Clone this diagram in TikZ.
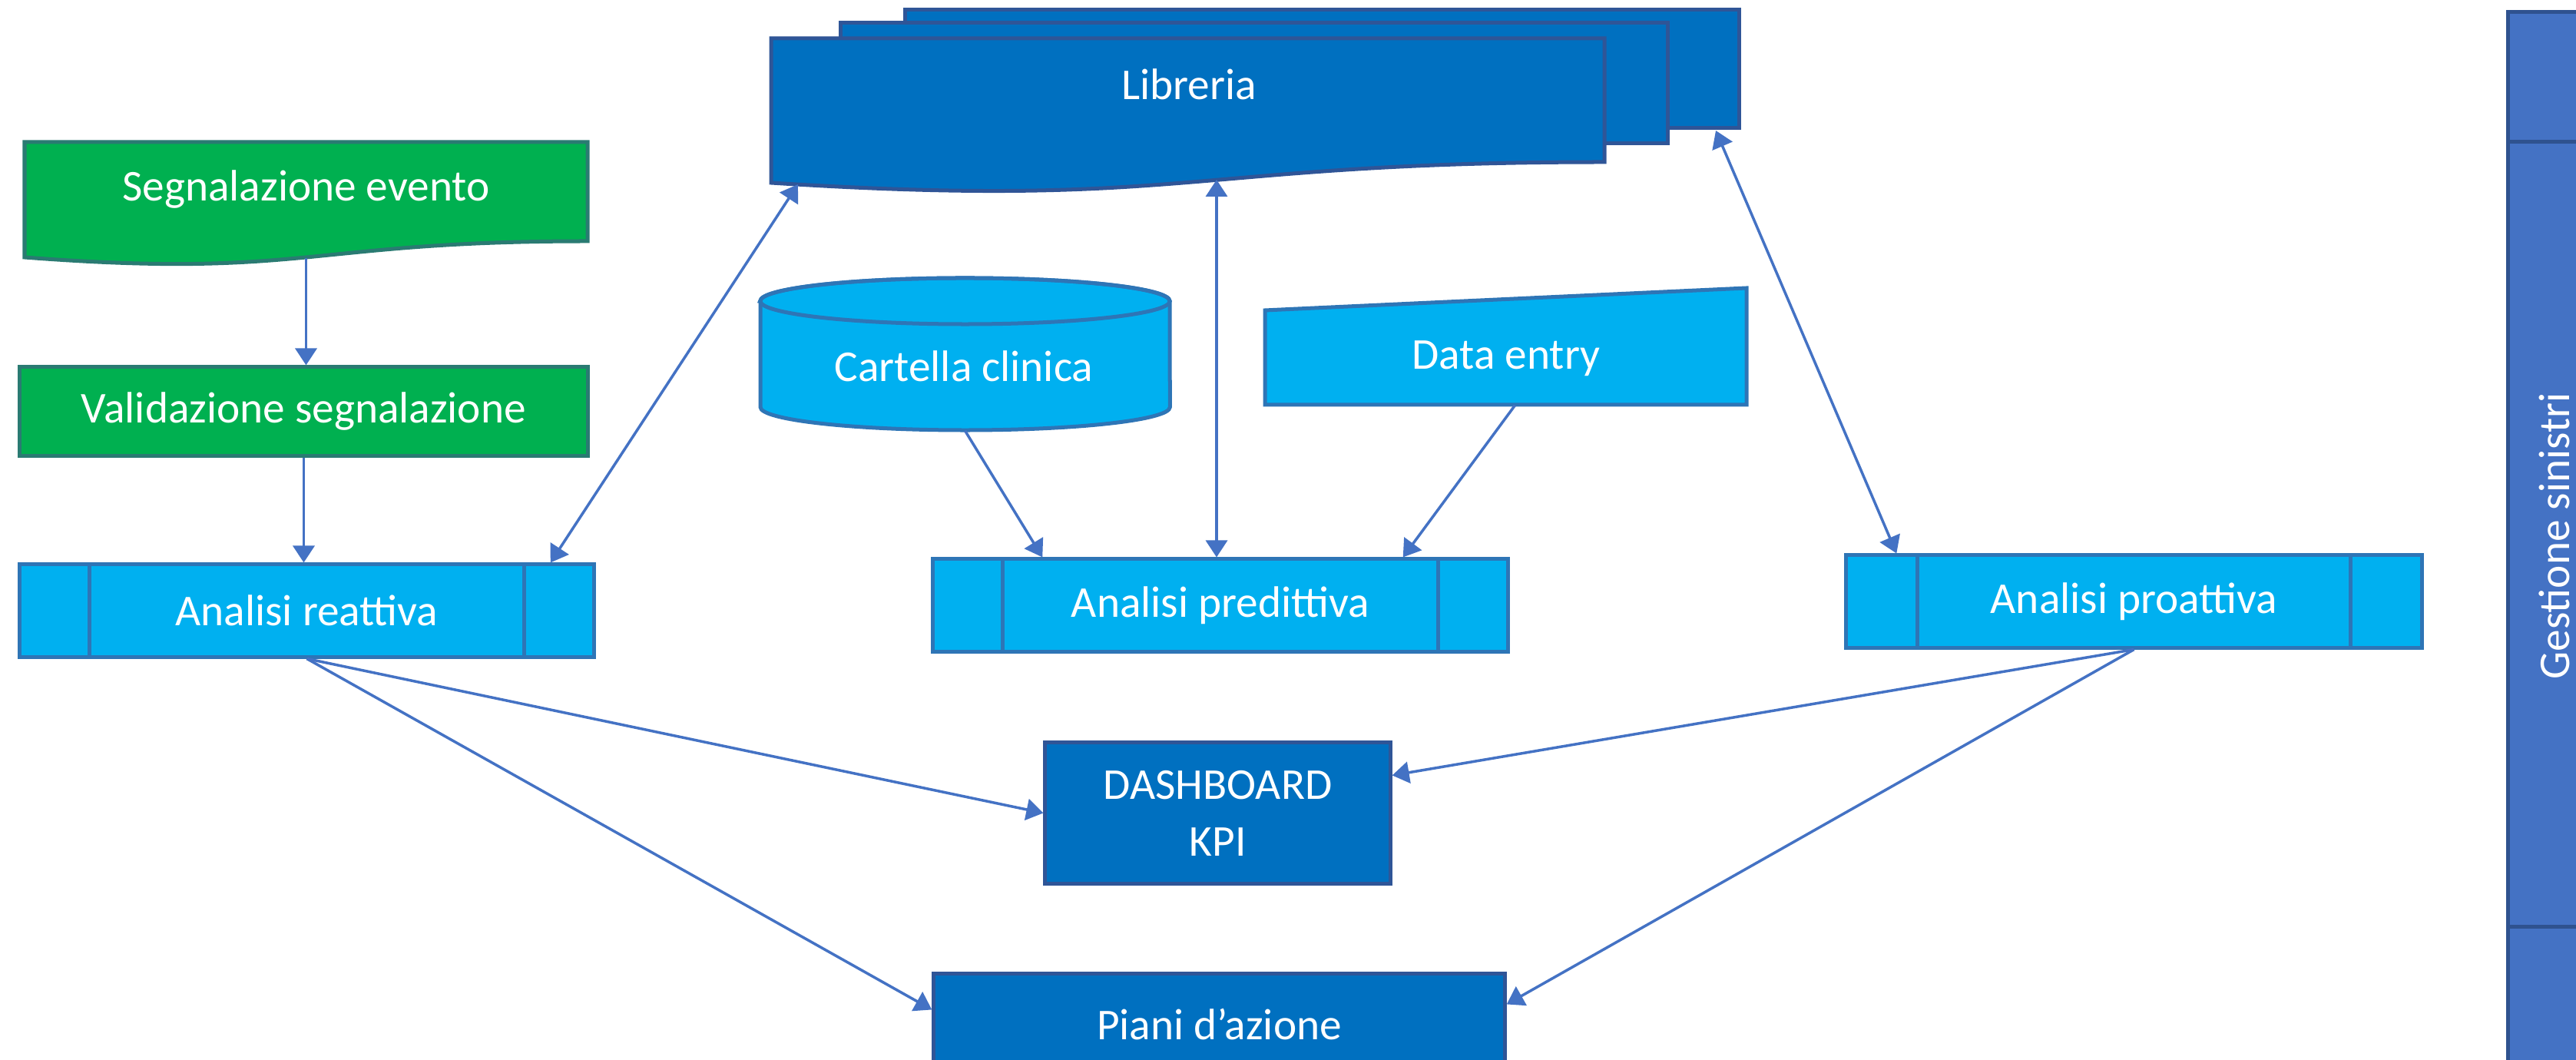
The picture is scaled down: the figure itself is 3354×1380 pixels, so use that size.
\documentclass[tikz,border=0pt]{standalone}
\usepackage{fontspec}
\setmainfont{Carlito}
\usetikzlibrary{calc,arrows.meta}
\definecolor{greenF}{HTML}{00B050}
\definecolor{greenB}{HTML}{2A7B72}
\definecolor{ltF}{HTML}{00B0F0}
\definecolor{ltB}{HTML}{2E75B6}
\definecolor{dkF}{HTML}{0070C0}
\definecolor{dkB}{HTML}{2F5597}
\definecolor{barF}{HTML}{4472C4}
\definecolor{barB}{HTML}{2F528F}
\definecolor{arrC}{HTML}{4472C4}
\newcommand\myfs{\fontsize{16.3}{21}\selectfont}
\begin{document}
\begin{tikzpicture}[x=0.01cm,y=-0.01cm,
  bw/.style={line width=0.05cm},
  greenshape/.style={bw, draw=greenB, fill=greenF},
  ltshape/.style={bw, draw=ltB, fill=ltF},
  dkshape/.style={bw, draw=dkB, fill=dkF},
  txt/.style={text=white, font=\myfs, align=center, inner sep=0pt},
  frame/.style={inner sep=0pt, draw=none, fill=none},
  greenbox/.style={greenshape, txt, rectangle},
  ltbox/.style={ltshape, txt, rectangle},
  dkbox/.style={dkshape, txt, rectangle},
  ltline/.style={bw, draw=ltB},
  tip/.tip={Triangle[length=0.22cm,width=0.28cm]},
  arr/.style={draw=arrC, line width=0.035cm, -tip},
  dbl/.style={draw=arrC, line width=0.035cm, tip-tip}]
\clip (0,0) rectangle (3354,1380);
\fill[white] (0,0) rectangle (3354,1380);

% Gestione sinistri bar
\node[frame, fill=barF, draw=barB, bw, minimum width=1.6cm, minimum height=14cm, anchor=north west] (gest) at (3263,13) {};
\draw[barB, bw] ($(gest.north west)+(0,172)$) -- ($(gest.north east)+(0,172)$);
\draw[barB, bw] ($(gest.north west)+(0,1194)$) -- ($(gest.north east)+(0,1194)$);
\node[txt, rotate=90] (gestT) at (3326,698) {Gestione sinistri};

% Libreria (multidocument)
\draw[dkshape] (1178,13) rectangle (2264,167);
\draw[dkshape] (1094,30) rectangle (2171,187);
\draw[dkshape] (1004,50) -- (2089,50) -- (2089,211) .. controls (1546.5,211) and (1546.5,272.6) .. (1004,238) -- cycle;
\node[frame, minimum width=10.85cm, minimum height=1.88cm] (lib) at (1546.5,144) {};
\node[txt] (libT) at (1548,110) {Libreria};
\coordinate (libA) at (1039,240);
\coordinate (libB) at (1584,234);
\coordinate (libC) at (2234,170);

% Segnalazione evento (document)
\draw[greenshape] (32,185) -- (765,185) -- (765,314) .. controls (398.5,314) and (398.5,363) .. (32,335) -- cycle;
\node[frame, minimum width=7.33cm, minimum height=1.5cm] (segn) at (398.5,260) {};
\node[txt] (segnT) at (398.5,247) {Segnalazione evento};

% Validazione segnalazione
\node[greenbox, minimum width=7.39cm, minimum height=1.15cm] (valid) at (395.5,535.5) {Validazione segnalazione};

% Analisi reattiva
\node[ltbox, minimum width=7.47cm, minimum height=1.2cm] (react) at (399.5,795) {Analisi reattiva};
\draw[ltline] ($(react.north west)+(93,0)$) -- ($(react.south west)+(93,0)$);
\draw[ltline] ($(react.north east)+(-93,0)$) -- ($(react.south east)+(-93,0)$);

% Cartella clinica (cylinder)
\draw[ltshape] (990,392) -- (990,530) arc[start angle=180, end angle=360, x radius=2.665cm, y radius=0.3cm] -- (1523,392) arc[start angle=0, end angle=180, x radius=2.665cm, y radius=0.3cm] -- cycle;
\draw[ltline] (1256.5,392) ellipse[x radius=2.665cm, y radius=0.3cm];
\node[frame, minimum width=5.33cm, minimum height=1.98cm] (cart) at (1256.5,461) {};
\node[txt] (cartT) at (1255,477) {Cartella clinica};

% Data entry (manual input)
\draw[ltshape] (1647,404) -- (2274,375) -- (2274,527) -- (1647,527) -- cycle;
\node[frame, minimum width=6.27cm, minimum height=1.52cm] (dent) at (1960.5,451) {};
\node[txt] (dentT) at (1961,467) {Data entry};

% Analisi predittiva
\node[ltbox, minimum width=7.48cm, minimum height=1.2cm] (pred) at (1589,788) {Analisi predittiva};
\draw[ltline] ($(pred.north west)+(93,0)$) -- ($(pred.south west)+(93,0)$);
\draw[ltline] ($(pred.north east)+(-93,0)$) -- ($(pred.south east)+(-93,0)$);

% Analisi proattiva
\node[ltbox, minimum width=7.49cm, minimum height=1.2cm] (proa) at (2778.5,783) {Analisi proattiva};
\draw[ltline] ($(proa.north west)+(95,0)$) -- ($(proa.south west)+(95,0)$);
\draw[ltline] ($(proa.north east)+(-95,0)$) -- ($(proa.south east)+(-95,0)$);

% Dashboard KPI
\node[dkbox, minimum width=4.49cm, minimum height=1.83cm] (dash) at (1585.5,1058.5) {DASHBOARD\\KPI};

% Piani d'azione
\node[dkbox, minimum width=7.43cm, minimum height=1.32cm] (piani) at (1587.5,1334) {Piani d’azione};

% Connectors
\draw[arr] (segn.south) -- (segn.south |- valid.north);
\draw[arr] (valid.south) -- (valid.south |- react.north);
\draw[dbl] ($(react.north east)+(-59,0)$) -- (libA);
\draw[dbl] (libB) -- (libB |- pred.north);
\draw[dbl] (libC) -- ($(proa.north west)+(68,0)$);
\draw[arr] (cart.south) -- ($(pred.north west)+(145,0)$);
\draw[arr] ($(dent.south)+(12,0)$) -- ($(pred.north east)+(-139,0)$);
\draw[arr] (react.south) -- (dash.west);
\draw[arr] (react.south) -- ($(piani.north west)+(0,49)$);
\draw[arr] (proa.south) -- ($(dash.north east)+(0,45)$);
\draw[arr] (proa.south) -- ($(piani.north east)+(0,42)$);
\end{tikzpicture}
\end{document}
